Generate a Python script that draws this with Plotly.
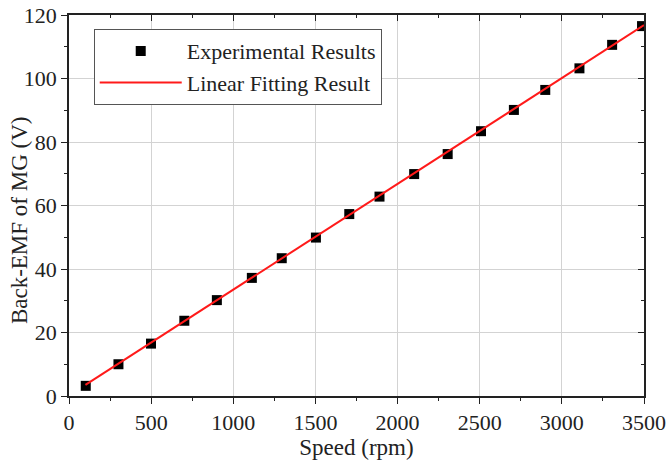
import plotly.graph_objects as go

speed = [102, 301, 499, 702, 900, 1113, 1295, 1503, 1706, 1890, 2101, 2305, 2508, 2708, 2899, 3107, 3306, 3488]
emf = [3.2, 10.0, 16.5, 23.7, 30.2, 37.2, 43.4, 49.9, 57.3, 62.8, 69.9, 76.2, 83.4, 90.1, 96.4, 103.2, 110.6, 116.5]
fit_x = [100, 3500]
fit_y = [3.5, 116.8]
x_ticks = [0, 500, 1000, 1500, 2000, 2500, 3000, 3500]
y_ticks = [0, 20, 40, 60, 80, 100, 120]

FONT = "Liberation Serif"
tick_font = dict(family=FONT, size=22, color="#222")
title_font = dict(family=FONT, size=23, color="#222")
legend_font = dict(family=FONT, size=22, color="#222")

fig = go.Figure()
fig.add_trace(go.Scatter(x=speed, y=emf, mode="markers", name="Experimental Results",
                         marker=dict(symbol="square", size=10, color="black")))
fig.add_trace(go.Scatter(x=fit_x, y=fit_y, mode="lines", name="Linear Fitting Result",
                         line=dict(color="#ff1a1a", width=2)))
# helper trace to create mirrored axes with inward ticks
fig.add_trace(go.Scatter(x=[None], y=[None], xaxis="x2", yaxis="y2", showlegend=False,
                         hoverinfo="skip"))

fig.update_layout(
    width=667, height=461,
    margin=dict(l=69, r=23, t=15, b=65),
    paper_bgcolor="white", plot_bgcolor="white",
    font=tick_font,
    xaxis=dict(range=[0, 3500], tickmode="array", tickvals=x_ticks, ticktext=[str(v) for v in x_ticks],
               showgrid=True, gridcolor="#d3d3d3", gridwidth=1, automargin=False,
               ticklabeloverflow="allow",
               showline=True, linecolor="#222", linewidth=1.5, ticks="outside", ticklen=6,
               tickcolor="#222", zeroline=False, tickfont=tick_font,
               minor=dict(dtick=250, tick0=0, ticks="outside", ticklen=3, tickcolor="#222", showgrid=False),
               title=dict(text="Speed (rpm)", font=title_font, standoff=4)),
    yaxis=dict(range=[0, 120], tickmode="array", tickvals=y_ticks, ticktext=[str(v) for v in y_ticks],
               showgrid=True, gridcolor="#d3d3d3", gridwidth=1, automargin=False,
               ticklabeloverflow="allow",
               showline=True, linecolor="#222", linewidth=1.5, ticks="outside", ticklen=6,
               tickcolor="#222", zeroline=False, tickfont=tick_font,
               minor=dict(dtick=10, tick0=0, ticks="outside", ticklen=3, tickcolor="#222", showgrid=False)),
    xaxis2=dict(range=[0, 3500], tickmode="array", tickvals=x_ticks, overlaying="x", side="top",
                showgrid=False, automargin=False,
                showline=True, linecolor="#222", linewidth=1.5, ticks="inside", ticklen=6,
                tickcolor="#222", showticklabels=False, zeroline=False,
                minor=dict(dtick=250, tick0=0, ticks="inside", ticklen=3, tickcolor="#222")),
    yaxis2=dict(range=[0, 120], tickmode="array", tickvals=y_ticks, overlaying="y", side="right",
                showgrid=False, automargin=False,
                showline=True, linecolor="#222", linewidth=1.5, ticks="inside", ticklen=6,
                tickcolor="#222", showticklabels=False, zeroline=False,
                minor=dict(dtick=10, tick0=0, ticks="inside", ticklen=3, tickcolor="#222")),
    legend=dict(x=0.043, y=0.963, xanchor="left", yanchor="top", bgcolor="white",
                bordercolor="#555", borderwidth=1, font=legend_font, itemwidth=82,
                tracegroupgap=0),
    showlegend=True,
    annotations=[dict(text="Back-EMF of MG (V)", textangle=-90, font=title_font,
                      xref="paper", yref="paper", x=-0.085, y=0.462,
                      xanchor="center", yanchor="middle", showarrow=False)],
)

fig.write_html("out.html")
